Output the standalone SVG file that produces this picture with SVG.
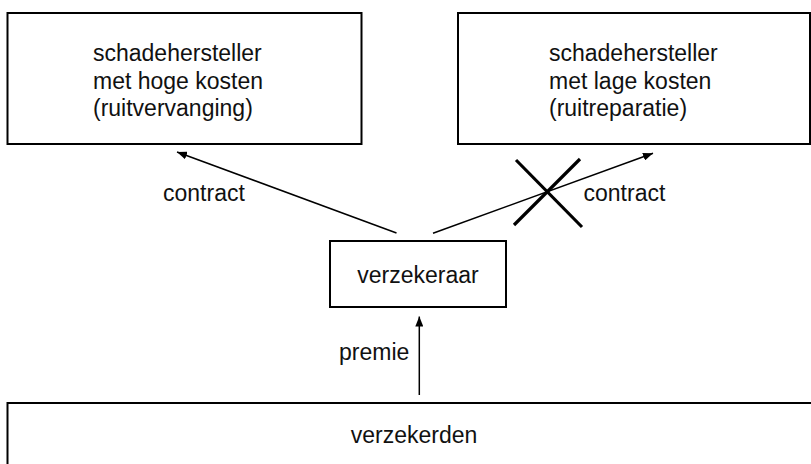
<svg xmlns="http://www.w3.org/2000/svg" width="811" height="464" viewBox="0 0 811 464">
<style>
.box{fill:#fff;stroke:#000;stroke-width:2}
.t{font-family:"Liberation Sans",Arial,sans-serif;font-size:23px;fill:#111}
.c{stroke:#000;stroke-width:1.5;fill:none}
.x{stroke:#000;stroke-width:3.2}
</style>
<defs>
<marker id="ah" viewBox="0 0 10 8" refX="10" refY="4" markerWidth="10" markerHeight="8" markerUnits="userSpaceOnUse" orient="auto">
<path d="M0,0 L10,4 L0,8 z" fill="#000"/>
</marker>
</defs>
<rect width="811" height="464" fill="#fff"/>
<g id="hoge">
<rect class="box" x="7.5" y="13" width="354" height="131"/>
<text class="t" x="93" y="61">schadehersteller</text>
<text class="t" x="93" y="88.5">met hoge kosten</text>
<text class="t" x="93" y="116">(ruitvervanging)</text>
</g>
<g id="lage">
<rect class="box" x="458" y="13" width="352" height="131"/>
<text class="t" x="549" y="61">schadehersteller</text>
<text class="t" x="549" y="88.5">met lage kosten</text>
<text class="t" x="549" y="116">(ruitreparatie)</text>
</g>
<g id="verzekeraar">
<rect class="box" x="330" y="241" width="176" height="66"/>
<text class="t" x="418" y="283" text-anchor="middle">verzekeraar</text>
</g>
<g id="verzekerden">
<rect class="box" x="7.5" y="403" width="820" height="80"/>
<text class="t" x="414" y="443" text-anchor="middle">verzekerden</text>
</g>
<g id="connectors">
<line class="c" x1="396.5" y1="233" x2="177" y2="152" marker-end="url(#ah)"/>
<line class="c" x1="433" y1="233.3" x2="653" y2="153.3" marker-end="url(#ah)"/>
<line class="c" x1="419.3" y1="395" x2="419.3" y2="316.5" marker-end="url(#ah)"/>
<text class="t" x="163" y="201">contract</text>
<text class="t" x="583.5" y="201">contract</text>
<text class="t" x="339" y="359.5">premie</text>
<line class="x" x1="516" y1="160" x2="582" y2="227"/>
<line class="x" x1="580" y1="159" x2="514" y2="225"/>
</g>
</svg>
